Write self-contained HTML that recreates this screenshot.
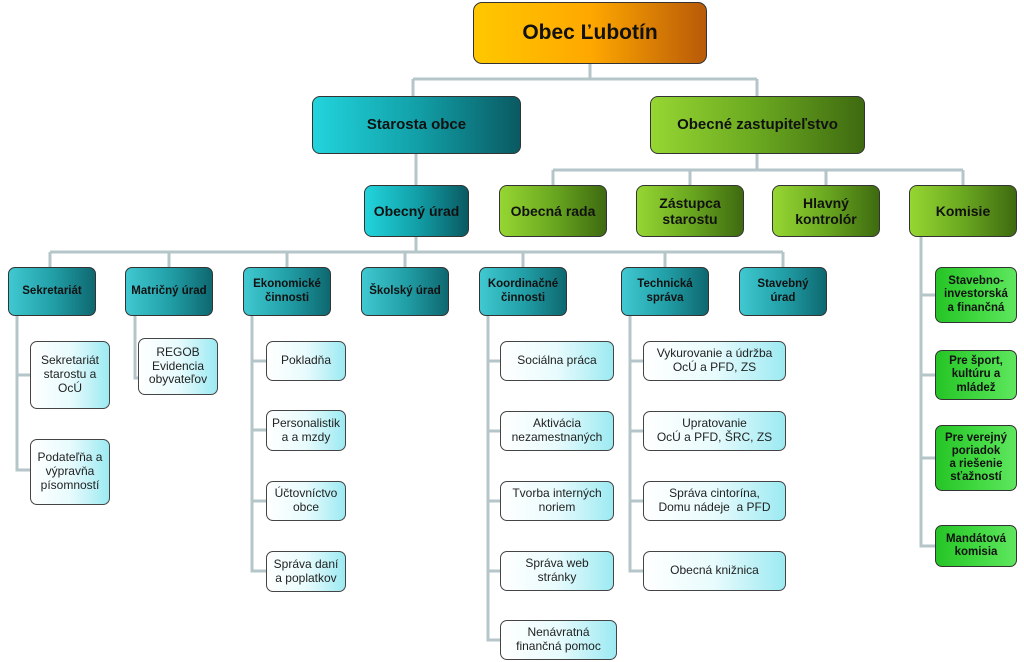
<!DOCTYPE html>
<html><head><meta charset="utf-8"><style>
body{margin:0;width:1024px;height:662px;background:#fff;position:relative;overflow:hidden;font-family:"Liberation Sans",sans-serif}
.b{position:absolute;box-sizing:border-box;display:flex;align-items:center;justify-content:center;text-align:center;border:1.5px solid #333;line-height:1.15}
.top{background:linear-gradient(90deg,#ffc800,#ffa800 50%,#b85a08);border-radius:9px;font-weight:bold;font-size:21px;color:#111}
.t1{background:linear-gradient(90deg,#22d4dc,#12a0a8 50%,#0a5a62);border-radius:8px;font-weight:bold;font-size:15px;color:#111}
.g1{background:linear-gradient(90deg,#96d632,#6aa820 50%,#3e6a10);border-radius:8px;font-weight:bold;font-size:15px;color:#111}
.t2{background:linear-gradient(90deg,#40c8d0,#22a0a8 50%,#0e6870);border-radius:7px;font-weight:bold;font-size:11.5px;color:#111}
.c{background:linear-gradient(90deg,#fff,#e8fbfd 50%,#9ceaf2);border-radius:7px;font-size:12px;color:#222;border-color:#444}
.gc{background:linear-gradient(90deg,#26c426,#40d840 50%,#5ee65e);border-radius:7px;font-size:11.5px;font-weight:bold;color:#111;border-color:#333}
</style></head><body>
<svg width="1024" height="662" style="position:absolute;left:0;top:0" fill="none" stroke="#b4c6ca" stroke-width="3">
<path d="M590 64V79M413 79H757M413 79V96M757 79V96"/>
<path d="M416 154V185M757 154V170M553 170H963M553 170V185M690 170V185M826 170V185M963 170V185"/>
<path d="M416 237V252M50 252H783M50 252V267M169 252V267M287 252V267M405 252V267M523 252V267M665 252V267M783 252V267"/>
<path d="M17 316V470H30M17 375H30"/>
<path d="M135 316V378H138"/>
<path d="M252 316V571H266M252 361H266M252 430H266M252 501H266"/>
<path d="M488 316V640H500M488 361H500M488 431H500M488 501H500M488 571H500"/>
<path d="M630 316V571H643M630 361H643M630 431H643M630 501H643"/>
<path d="M921 237V546H935M921 295H935M921 375H935M921 458H935"/>
</svg>
<div class="b top" style="left:473px;top:2px;width:234px;height:62px">Obec Ľubotín</div>
<div class="b t1" style="left:312px;top:96px;width:209px;height:58px">Starosta obce</div>
<div class="b g1" style="left:650px;top:96px;width:215px;height:58px">Obecné zastupiteľstvo</div>
<div class="b t1" style="left:364px;top:185px;width:105px;height:52px;font-size:14px">Obecný úrad</div>
<div class="b g1" style="left:499px;top:185px;width:108px;height:52px;font-size:14px">Obecná rada</div>
<div class="b g1" style="left:636px;top:185px;width:108px;height:52px;font-size:14px">Zástupca<br>starostu</div>
<div class="b g1" style="left:772px;top:185px;width:108px;height:52px;font-size:14px">Hlavný<br>kontrolór</div>
<div class="b g1" style="left:909px;top:185px;width:108px;height:52px;font-size:14px">Komisie</div>

<div class="b t2" style="left:8px;top:267px;width:88px;height:49px">Sekretariát</div>
<div class="b t2" style="left:125px;top:267px;width:88px;height:49px">Matričný úrad</div>
<div class="b t2" style="left:243px;top:267px;width:88px;height:49px">Ekonomické<br>činnosti</div>
<div class="b t2" style="left:361px;top:267px;width:88px;height:49px">Školský úrad</div>
<div class="b t2" style="left:479px;top:267px;width:88px;height:49px">Koordinačné<br>činnosti</div>
<div class="b t2" style="left:621px;top:267px;width:88px;height:49px">Technická<br>správa</div>
<div class="b t2" style="left:739px;top:267px;width:88px;height:49px">Stavebný<br>úrad</div>

<div class="b c" style="left:30px;top:341px;width:80px;height:68px">Sekretariát<br>starostu a<br>OcÚ</div>
<div class="b c" style="left:30px;top:439px;width:80px;height:66px">Podateľňa a<br>výpravňa<br>písomností</div>
<div class="b c" style="left:138px;top:338px;width:80px;height:57px">REGOB<br>Evidencia<br>obyvateľov</div>

<div class="b c" style="left:266px;top:341px;width:80px;height:40px">Pokladňa</div>
<div class="b c" style="left:266px;top:410px;width:80px;height:41px">Personalistik<br>a a mzdy</div>
<div class="b c" style="left:266px;top:481px;width:80px;height:40px">Účtovníctvo<br>obce</div>
<div class="b c" style="left:266px;top:551px;width:80px;height:41px">Správa daní<br>a poplatkov</div>

<div class="b c" style="left:500px;top:341px;width:114px;height:40px">Sociálna práca</div>
<div class="b c" style="left:500px;top:411px;width:114px;height:40px">Aktivácia<br>nezamestnaných</div>
<div class="b c" style="left:500px;top:481px;width:114px;height:40px">Tvorba interných<br>noriem</div>
<div class="b c" style="left:500px;top:551px;width:114px;height:40px">Správa web<br>stránky</div>
<div class="b c" style="left:500px;top:620px;width:117px;height:40px">Nenávratná<br>finančná pomoc</div>

<div class="b c" style="left:643px;top:341px;width:143px;height:40px">Vykurovanie a údržba<br>OcÚ a PFD, ZS</div>
<div class="b c" style="left:643px;top:411px;width:143px;height:40px">Upratovanie<br>OcÚ a PFD, ŠRC, ZS</div>
<div class="b c" style="left:643px;top:481px;width:143px;height:40px">Správa cintorína,<br>Domu nádeje &nbsp;a PFD</div>
<div class="b c" style="left:643px;top:551px;width:143px;height:40px">Obecná knižnica</div>

<div class="b gc" style="left:935px;top:267px;width:82px;height:56px">Stavebno-<br>investorská<br>a finančná</div>
<div class="b gc" style="left:935px;top:350px;width:82px;height:50px">Pre šport,<br>kultúru a<br>mládež</div>
<div class="b gc" style="left:935px;top:425px;width:82px;height:66px">Pre verejný<br>poriadok<br>a riešenie<br>sťažností</div>
<div class="b gc" style="left:935px;top:525px;width:82px;height:42px">Mandátová<br>komisia</div>
</body></html>
